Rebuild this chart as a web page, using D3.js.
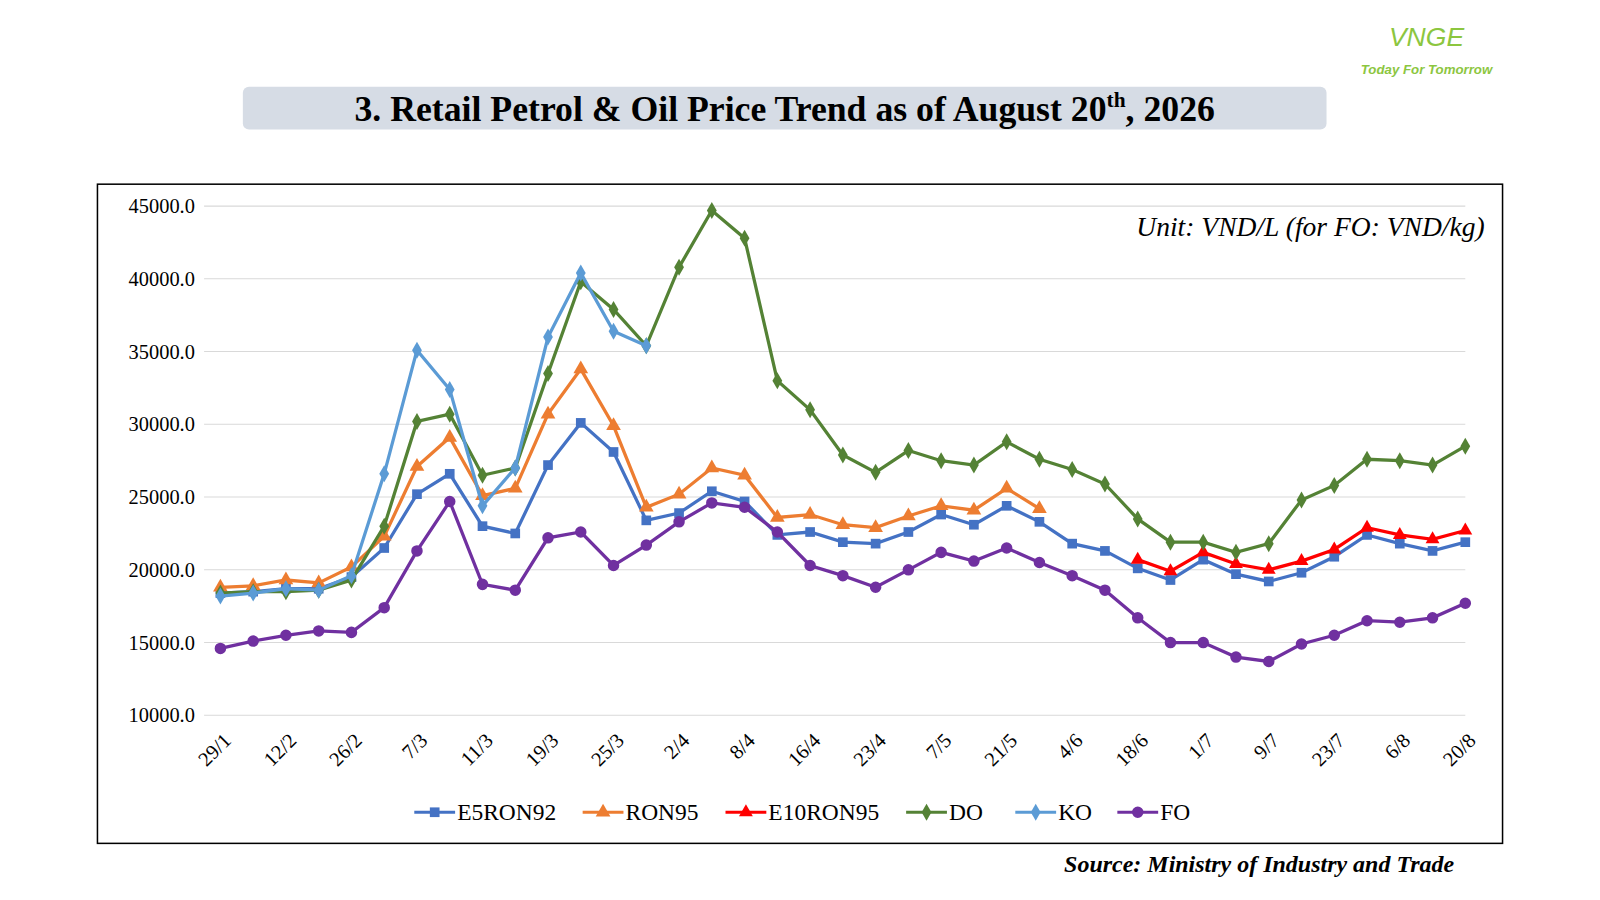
<!DOCTYPE html>
<html><head><meta charset="utf-8">
<script src="https://cdn.jsdelivr.net/npm/d3@7"></script>
<style>body{margin:0;background:#fff}svg{font-family:"Liberation Serif","Times New Roman",serif}</style>
</head><body>
<script>
var width = 1600, height = 900;

var dates = ["29/1","5/2","12/2","19/2","26/2","3/3","7/3","9/3","11/3","14/3","19/3","21/3","25/3","28/3","2/4","5/4","8/4","12/4","16/4","20/4","23/4","28/4","7/5","14/5","21/5","28/5","4/6","11/6","18/6","25/6","1/7","4/7","9/7","16/7","23/7","30/7","6/8","13/8","20/8"];
var yTicks = [10000,15000,20000,25000,30000,35000,40000,45000];

var e5ron92 = [18400,18500,18700,18700,19500,21500,25200,26600,23000,22500,27200,30100,28100,23400,23900,25400,24700,22400,22600,21900,21800,22600,23800,23100,24400,23300,21800,21300,20100,19300,20700,19700,19200,19800,20900,22400,21800,21300,21900];
var ron95 = [18800,18900,19300,19100,20200,22300,27100,29100,25100,25600,30700,33800,29900,24300,25200,27000,26500,23600,23800,23100,22900,23700,24400,24100,25600,24200,null,null,null,null,null,null,null,null,null,null,null,null,null];
var e10ron95 = [null,null,null,null,null,null,null,null,null,null,null,null,null,null,null,null,null,null,null,null,null,null,null,null,null,null,null,null,20700,19900,21200,20400,20000,20600,21400,22900,22400,22100,22700];
var dO = [18400,18500,18500,18600,19300,23000,30200,30700,26500,27000,33500,39800,37900,35400,40800,44700,42800,33000,31000,27900,26700,28200,27500,27200,28800,27600,26900,25900,23500,21900,21900,21200,21800,24800,25800,27600,27500,27200,28500];
var kO = [18200,18400,18700,18600,19600,26600,35100,32400,24400,27000,36000,40400,36400,35400,null,null,null,null,null,null,null,null,null,null,null,null,null,null,null,null,null,null,null,null,null,null,null,null,null];
var fO = [14600,15100,15500,15800,15700,17400,21300,24700,19000,18600,22200,22600,20300,21700,23300,24600,24300,22600,20300,19600,18800,20000,21200,20600,21500,20500,19600,18600,16700,15000,15000,14000,13700,14900,15500,16500,16400,16700,17700];

var series = [
  {name:"E5RON92", values:e5ron92, color:"#4472C4", sym:d3.symbolSquare, size:90},
  {name:"RON95", values:ron95, color:"#ED7D31", sym:d3.symbolTriangle, size:90},
  {name:"E10RON95", values:e10ron95, color:"#FF0000", sym:d3.symbolTriangle, size:80},
  {name:"DO", values:dO, color:"#548235", sym:d3.symbolDiamond, size:80},
  {name:"KO", values:kO, color:"#5B9BD5", sym:d3.symbolDiamond, size:80},
  {name:"FO", values:fO, color:"#7030A0", sym:d3.symbolCircle, size:100}
];

var root = d3.select("body").append("svg").attr("width", width).attr("height", height);
var svg = root.append("g").attr("transform","scale(" + (1600/1568) + ")");

// logo
svg.append("text").attr("x",1398).attr("y",45).attr("text-anchor","middle")
  .attr("font-family","Liberation Sans, sans-serif").attr("font-style","italic")
  .attr("fill","#8cc63f").attr("font-size",26).text("VNGE");
svg.append("text").attr("x",1398).attr("y",73).attr("text-anchor","middle")
  .attr("font-family","Liberation Sans, sans-serif").attr("font-style","italic").attr("font-weight","bold")
  .attr("fill","#8cc63f").attr("font-size",13).text("Today For Tomorrow");

// title
svg.append("rect").attr("x",238).attr("y",85).attr("width",1062).attr("height",42).attr("rx",6).attr("fill","#d6dce5");
var t = svg.append("text").attr("x",769).attr("y",119).attr("text-anchor","middle")
  .attr("font-weight","bold").attr("font-size",35).attr("fill","#000");
t.append("tspan").text("3. Retail Petrol & Oil Price Trend as of August 20");
t.append("tspan").attr("font-size",21).attr("dy",-14).text("th");
t.append("tspan").attr("dy",14).text(", 2026");

// frame
svg.append("rect").attr("x",95.5).attr("y",180.5).attr("width",1377).attr("height",646)
  .attr("fill","none").attr("stroke","#000").attr("stroke-width",1.5);

var x = d3.scalePoint().domain(dates).range([216,1436]);
var y = d3.scaleLinear().domain([10000,45000]).range([701,202]);

var grid = svg.append("g");
grid.selectAll("line").data(yTicks).enter().append("line")
  .attr("x1",200).attr("x2",1436).attr("y1",d=>y(d)).attr("y2",d=>y(d))
  .attr("stroke","#d9d9d9");

var yAxis = svg.append("g").attr("transform","translate(191,0)")
  .call(d3.axisLeft(y).tickValues(yTicks).tickSize(0).tickPadding(0).tickFormat(d3.format(".1f")));
yAxis.select(".domain").remove();
yAxis.selectAll("text").attr("font-size",20).attr("font-family","Liberation Serif, serif").attr("fill","#000");

var xAxis = svg.append("g").attr("transform","translate(0,714)")
  .call(d3.axisBottom(x).tickValues(dates.filter((d,i)=>i%2===0)).tickSize(0).tickPadding(0));
xAxis.select(".domain").remove();
xAxis.selectAll("text").attr("font-size",20).attr("font-family","Liberation Serif, serif").attr("fill","#000")
  .attr("text-anchor","end").attr("transform","translate(6,8) rotate(-45)").attr("dy","0.35em");

series.forEach(function(s){
  var g = svg.append("g");
  g.append("path").datum(s.values).attr("d", d3.line().defined(d=>d!=null).x((d,i)=>x(dates[i])).y(d=>y(d)))
    .attr("fill","none").attr("stroke",s.color).attr("stroke-width",3.2);
  g.selectAll("path.pt").data(s.values.map((v,i)=>[i,v]).filter(d=>d[1]!=null)).enter()
    .append("path").attr("class","pt")
    .attr("transform",d=>"translate("+x(dates[d[0]])+","+y(d[1])+")")
    .attr("d", d3.symbol().type(s.sym).size(s.size)).attr("fill",s.color);
});

svg.append("text").attr("x",1455).attr("y",231).attr("text-anchor","end")
  .attr("font-style","italic").attr("font-size",27).text("Unit: VND/L (for FO: VND/kg)");

// legend
var lx = [406,571,711,888,995,1095];
var leg = svg.selectAll("g.leg").data(series).enter().append("g").attr("class","leg")
  .attr("transform",(d,i)=>"translate("+lx[i]+",796)");
leg.append("line").attr("x1",0).attr("x2",40).attr("stroke",d=>d.color).attr("stroke-width",3);
leg.append("path").attr("transform","translate(20,0)").attr("d",d=>d3.symbol().type(d.sym).size(d.size)()).attr("fill",d=>d.color);
leg.append("text").attr("x",42).attr("y",8).attr("font-size",23).text(d=>d.name);

svg.append("text").attr("x",1425).attr("y",855).attr("text-anchor","end")
  .attr("font-weight","bold").attr("font-style","italic").attr("font-size",23.5)
  .text("Source: Ministry of Industry and Trade");
</script>
</body></html>
